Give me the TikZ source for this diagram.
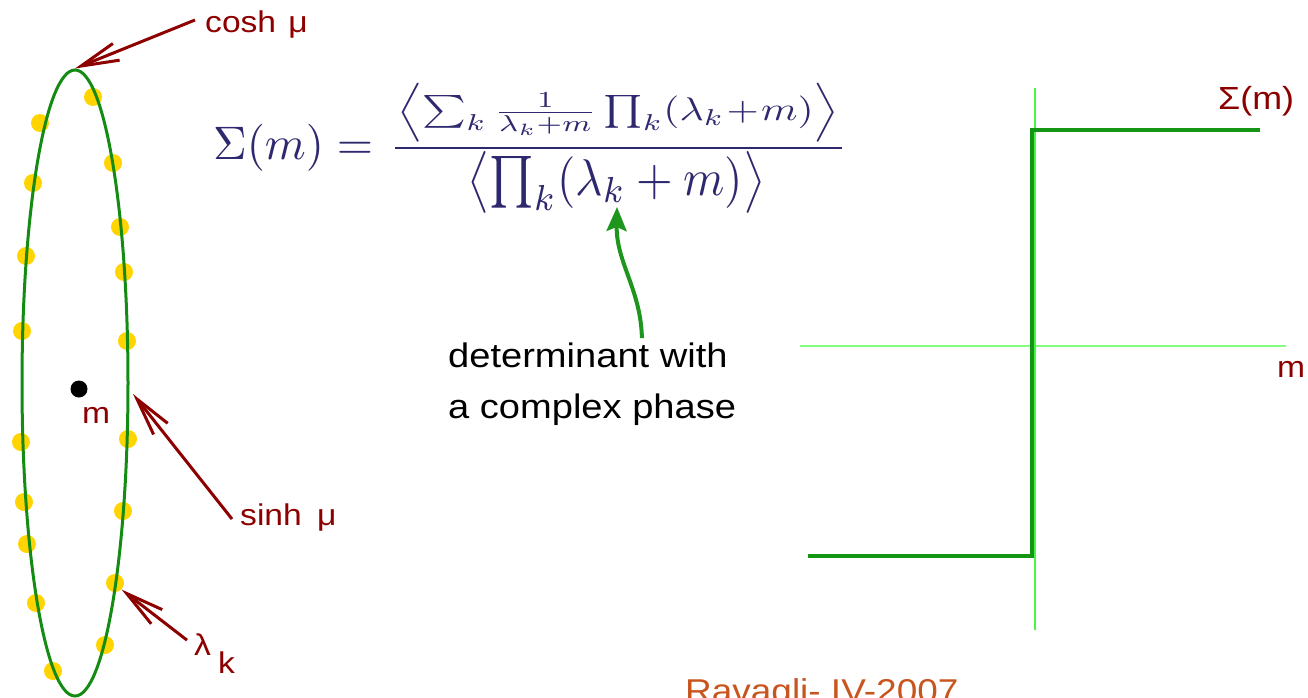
\documentclass[tikz,border=0pt]{standalone}
\usepackage{fontspec}
\usepackage{amsmath}
\usepackage{graphicx}
\usetikzlibrary{arrows.meta,shapes.geometric}
\newfontfamily\labfont[FakeStretch=1.12]{Liberation Sans}
\definecolor{darkred}{RGB}{140,0,0}
\definecolor{formulablue}{RGB}{46,40,110}
\definecolor{ellgreen}{RGB}{20,140,20}
\definecolor{dotyellow}{RGB}{255,212,0}
\definecolor{arrgreen}{RGB}{30,150,30}
\definecolor{stepgreen}{RGB}{20,150,20}
\definecolor{axisgreen}{RGB}{128,255,128}
\definecolor{vaxisgreen}{RGB}{70,245,70}
\definecolor{orangetxt}{RGB}{200,85,30}
\tikzset{
  lab/.style={font=\labfont\fontsize{30}{36}\selectfont, text=darkred, inner sep=0pt},
  redarrow/.style={draw=darkred, line width=3pt, -{Straight Barb[length=38pt,width=18pt]}},
  ydot/.style={circle, fill=dotyellow, minimum size=18pt, inner sep=0pt},
  bdot/.style={circle, fill=black, minimum size=17pt, inner sep=0pt},
  garrow/.style={draw=arrgreen, line width=4pt, -{Stealth[length=24pt,width=20pt,inset=4pt]}},
  steppath/.style={draw=stepgreen, line width=4pt},
  haxis/.style={draw=axisgreen, line width=2pt},
  vaxis/.style={draw=vaxisgreen, line width=1.2pt},
  plain/.style={font=\labfont\fontsize{34}{40}\selectfont, text=black, inner sep=0pt},
  mathpart/.style={inner sep=0pt, text=formulablue}
}
\begin{document}
\begin{tikzpicture}[x=1pt,y=-1pt]
\useasboundingbox (0,0) rectangle (1308,698);
\clip (0,0) rectangle (1308,698);
% yellow eigenvalue dots
\foreach \i/\px/\py in {1/93/97,2/40/123,3/113/163,4/33/183,5/120/227,6/26/256,7/124/272,8/22/331,9/127/341,10/21/442,11/128/439,12/24/502,13/123/511,14/27/544,15/115/583,16/36/603,17/105/645,18/53/671}
  \node[ydot] (d\i) at (\px,\py) {};
% ellipse
\node[ellipse, draw=ellgreen, line width=3pt, minimum width=106pt, minimum height=626pt, inner sep=0pt] (ell) at (75,383) {};
% mass point
\node[bdot] (mdot) at (79,389) {};
\node[lab, anchor=base west] (mlab) at (82,423) {m};
% labels
\node[lab, anchor=base west] (cosh) at (205,33) {cosh\hspace{3pt} μ};
\node[lab, anchor=base west] (sinh) at (240,525) {sinh\hspace{6pt} μ};
\node[lab, anchor=base west] (lamk) at (194,655) {λ\hspace{7pt}\raisebox{-18pt}{k}};
\coordinate (sinhtip) at (133,394);
\draw[redarrow] ([xshift=-10pt,yshift=5pt]cosh.west) -- (ell.north);
\draw[redarrow] ([xshift=-8pt,yshift=-2pt]sinh.west) -- (sinhtip);
\draw[redarrow] ([xshift=-7pt,yshift=13pt]lamk.west) -- (d15.south east);
% formula
\node[mathpart, anchor=west] (lhs) at (213,148)
  {\resizebox*{160pt}{47pt}{$\Sigma(m)=$}};
\node[mathpart, anchor=south west] (num) at (397,142)
  {\resizebox*{442pt}{59pt}{$\left\langle\sum_k\frac{1}{\lambda_k+m}\prod_k(\lambda_k\!+\!m)\right\rangle$}};
\node[mathpart, anchor=north west] (den) at (467,151)
  {\resizebox*{298pt}{62pt}{$\bigl\langle\prod_k(\lambda_k+m)\bigr\rangle$}};
\coordinate (barl) at (395,148);
\coordinate (barr) at (842,148);
\draw[formulablue, line width=2.5pt] (barl) -- (barr);
% annotation
\node[plain, anchor=base west] (det1) at (448,367) {determinant with};
\node[plain, anchor=base west] (det2) at (448,418) {a complex phase};
\coordinate (lk) at (617,207);
\draw[garrow] ([xshift=54pt,yshift=4pt]det1.north) .. controls (641,290) and (616,262) .. (lk);
% plot
\coordinate (hl) at (800,346);
\coordinate (hr) at (1286,346);
\coordinate (vt) at (1035,88);
\coordinate (vb) at (1035,630);
\draw[haxis] (hl) -- (hr);
\draw[vaxis] (vt) -- (vb);
\coordinate (s1) at (808,556);
\coordinate (s2) at (1032,556);
\coordinate (s3) at (1032,130);
\coordinate (s4) at (1260,130);
\draw[steppath] (s1) -- (s2) -- (s3) -- (s4);
\node[lab, anchor=base west, font=\labfont\fontsize{32}{38}\selectfont] (sigm) at (1218,110) {Σ(m)};
\node[lab, anchor=base west] (maxis) at (1277,377) {m};
% footer
\node[anchor=base west, font=\labfont\fontsize{33}{40}\selectfont, text=orangetxt, inner sep=0pt] (foot) at (685,702) {Ravagli- IV-2007};
\end{tikzpicture}
\end{document}
